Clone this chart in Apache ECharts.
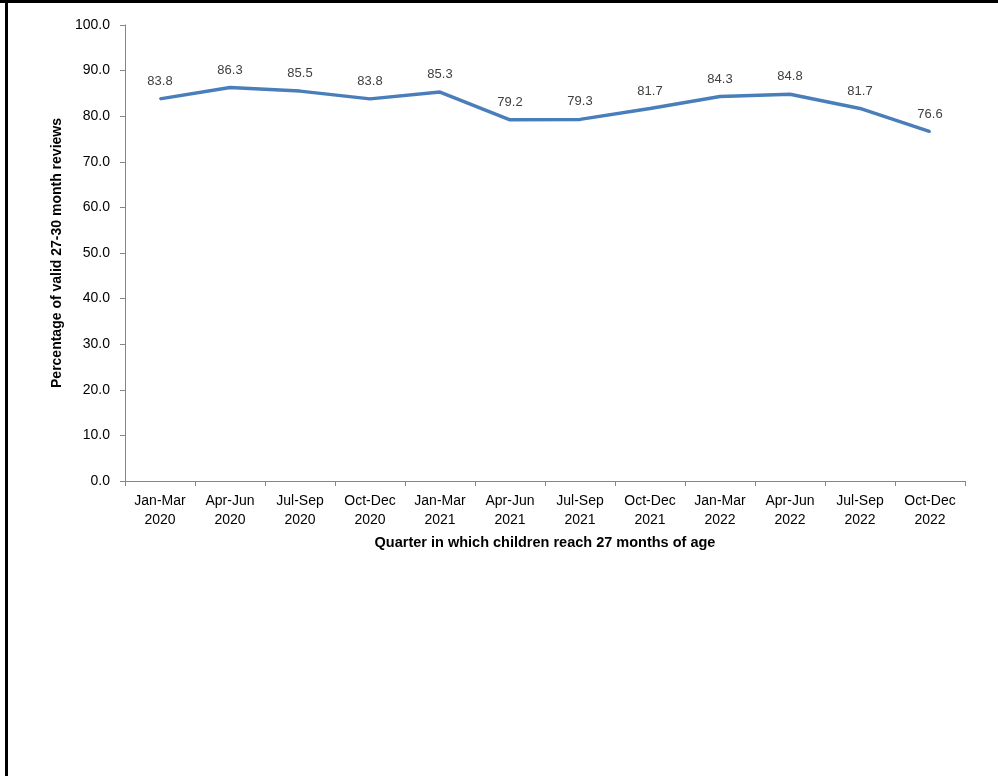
<!DOCTYPE html>
<html>
<head>
<meta charset="utf-8">
<script src="https://cdn.jsdelivr.net/npm/echarts@6/dist/echarts.min.js"></script>
<style>
html,body{margin:0;padding:0;background:#fff;}
#c{width:998px;height:776px;}
</style>
</head>
<body>
<div id="c"></div>
<script>
const categories = ["Jan-Mar\n2020","Apr-Jun\n2020","Jul-Sep\n2020","Oct-Dec\n2020","Jan-Mar\n2021","Apr-Jun\n2021","Jul-Sep\n2021","Oct-Dec\n2021","Jan-Mar\n2022","Apr-Jun\n2022","Jul-Sep\n2022","Oct-Dec\n2022"];
const values = [83.8,86.3,85.5,83.8,85.3,79.2,79.3,81.7,84.3,84.8,81.7,76.6];
const yTicks = {min:0, max:100, interval:10};
const yName = "Percentage of valid 27-30 month reviews";
const xName = "Quarter in which children reach 27 months of age";

const chart = echarts.init(document.getElementById('c'), null, {renderer:'canvas'});
const font = "'Liberation Sans', Arial, sans-serif";
chart.setOption({
  animation:false,
  backgroundColor:'#fff',
  textStyle:{fontFamily:font},
  graphic:[
    {type:'rect', shape:{x:0,y:0,width:998,height:3}, style:{fill:'#000'}},
    {type:'rect', shape:{x:5,y:0,width:3,height:776}, style:{fill:'#000'}}
  ],
  grid:{left:125, top:25, right:33, bottom:295, containLabel:false},
  xAxis:{
    type:'category',
    data:categories,
    boundaryGap:true,
    name:xName,
    nameLocation:'middle',
    nameGap:54,
    nameTextStyle:{fontSize:14.5, fontWeight:'bold', color:'#000', fontFamily:font},
    axisLine:{lineStyle:{color:'#868686', width:1}},
    axisTick:{show:true, length:5, alignWithLabel:false, lineStyle:{color:'#868686'}},
    axisLabel:{fontSize:14, color:'#000', lineHeight:19, margin:11, interval:0, fontFamily:font},
    splitLine:{show:false}
  },
  yAxis:{
    type:'value',
    min:yTicks.min, max:yTicks.max, interval:yTicks.interval,
    name:yName,
    nameLocation:'middle',
    nameGap:61,
    nameRotate:90,
    nameTextStyle:{fontSize:14, fontWeight:'bold', color:'#000', fontFamily:font},
    axisLine:{show:true, lineStyle:{color:'#868686', width:1}},
    axisTick:{show:true, length:5, lineStyle:{color:'#868686'}},
    axisLabel:{fontSize:14, color:'#000', margin:15, formatter:v=>v.toFixed(1), fontFamily:font},
    splitLine:{show:false}
  },
  series:[{
    type:'line',
    data:values,
    symbol:'circle',
    symbolSize:2,
    showSymbol:true,
    itemStyle:{color:'#4a7ebb'},
    lineStyle:{color:'#4a7ebb', width:3.5},
    label:{show:true, position:'top', distance:10, fontSize:13, color:'#404040', formatter:p=>p.value.toFixed(1), fontFamily:font}
  }]
});
</script>
</body>
</html>
